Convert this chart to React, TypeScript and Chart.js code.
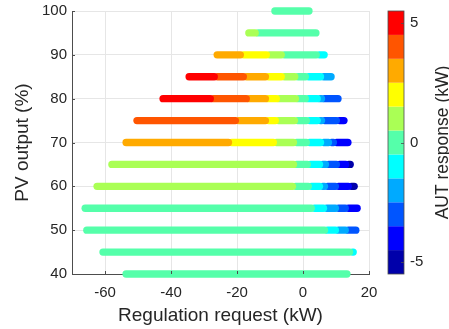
import React, { useEffect, useRef } from 'react';
import { Chart, registerables } from 'chart.js';

Chart.register(...registerables);

// ---- data ----
const pvOutput = [40, 45, 50, 55, 60, 65, 70, 75, 80, 85, 90, 95, 100];
// regulation request (kW) of first and last point of each row
const rowStart = [-53.6, -60.6, -65.5, -66, -62.4, -57.9, -53.6, -50.3, -42.4, -34.5, -26, -16.4, -8.5];
const rowEnd = [13.3, 15.2, 16, 16.4, 15.5, 14.3, 13.6, 12.4, 10.6, 8.5, 6.4, 3.9, 1.8];
// regulation request (kW) where the AUT response changes level
const rowBreaks = [
  [],
  [14.6],
  [7.0, 10.3, 13.3],
  [3.0, 6.7, 10.3, 13.3],
  [-2.7, 2.1, 5.5, 7.0, 10.3, 14.2],
  [-2.4, 1.8, 5.5, 7.3, 10.6, 13.4],
  [-22.1, -8.5, -2.4, 1.5, 5.8, 8.2, 9.7],
  [-20, -10.9, -7.9, -2.1, 1.5, 4.8, 6.1, 10.6],
  [-27.6, -16.7, -10.9, -7.6, -1.8, 1.2, 4.8, 6.1],
  [-26.4, -17.6, -10.9, -6.1, -2, 1.2, 5.8],
  [-18.5, -10.6, -6.1, 4.5],
  [-14],
  [],
];
// AUT response (kW) for each piece of each row
const rowResponse = [
  [0],
  [0, -1],
  [0, -1, -2, -3],
  [0, -1, -2, -3, -4],
  [1, 0, -1, -2, -3, -4, -5],
  [1, 0, -1, -2, -3, -4, -5],
  [3, 2, 1, 0, -1, -2, -3, -4],
  [4, 3, 2, 1, 0, -1, -2, -3, -4],
  [5, 4, 3, 2, 1, 0, -1, -2, -3],
  [5, 4, 3, 2, 1, 0, -1, -2],
  [3, 2, 1, 0, -1],
  [1, 0],
  [0],
];
const responseLevels = [-5, -4, -3, -2, -1, 0, 1, 2, 3, 4, 5];
const jetColors = ['#0000aa', '#0000ff', '#0055ff', '#00aaff', '#00ffff', '#55ffaa', '#aaff55', '#ffff00', '#ffaa00', '#ff5500', '#ff0000'];
const xTicks = [-60, -40, -20, 0, 20];
const yTicks = [40, 50, 60, 70, 80, 90, 100];
const cbTicks = [-5, 0, 5];

const FONT = "'Liberation Sans', Arial, Helvetica, sans-serif";
const TEXT = '#262626';
const AXIS = '#4d4d4d';
const GRID = '#e6e6e6';

const colorOf = (lv: number) => jetColors[responseLevels.indexOf(lv)];

const extrasPlugin = {
  id: 'extras',
  afterDraw(chart: any) {
    const ctx = chart.ctx as CanvasRenderingContext2D;
    const { left, right, bottom } = chart.chartArea;
    const cb = chart.scales.cb;
    const xs = chart.scales.x;
    const ys = chart.scales.y;
    ctx.save();
    // inward tick marks
    ctx.strokeStyle = AXIS;
    ctx.lineWidth = 1;
    ctx.beginPath();
    xTicks.forEach((v) => {
      const px = Math.round(xs.getPixelForValue(v)) + 0.5;
      ctx.moveTo(px, bottom);
      ctx.lineTo(px, bottom - 3);
    });
    yTicks.forEach((v) => {
      const py = Math.round(ys.getPixelForValue(v)) + 0.5;
      ctx.moveTo(left, py);
      ctx.lineTo(left + 3, py);
    });
    ctx.stroke();
    // colorbar
    const bx = right + 19;
    const bw = 16;
    responseLevels.forEach((lv, i) => {
      const y0 = cb.getPixelForValue(lv + 0.5);
      const y1 = cb.getPixelForValue(lv - 0.5);
      ctx.fillStyle = jetColors[i];
      ctx.fillRect(bx, y0, bw, y1 - y0);
    });
    ctx.strokeStyle = AXIS;
    ctx.lineWidth = 0.8;
    const cTop = cb.getPixelForValue(5.5);
    const cBot = cb.getPixelForValue(-5.5);
    ctx.strokeRect(bx, cTop, bw, cBot - cTop);
    ctx.beginPath();
    cbTicks.forEach((v) => {
      const py = Math.round(cb.getPixelForValue(v)) + 0.5;
      ctx.moveTo(bx + bw, py);
      ctx.lineTo(bx + bw - 3, py);
    });
    ctx.stroke();
    // colorbar title
    ctx.fillStyle = TEXT;
    ctx.font = `17.5px ${FONT}`;
    ctx.textAlign = 'center';
    ctx.textBaseline = 'middle';
    ctx.translate(443, (cTop + cBot) / 2);
    ctx.rotate(-Math.PI / 2);
    ctx.fillText('AUT response (kW)', 0, 0);
    ctx.restore();
  },
};

export default function App() {
  const ref = useRef<HTMLCanvasElement | null>(null);
  useEffect(() => {
    if (!ref.current) return;
    const datasets: any[] = [];
    pvOutput.forEach((pv, r) => {
      const levels = rowResponse[r];
      const breaks = rowBreaks[r];
      levels.forEach((lv, i) => {
        let x0 = i === 0 ? rowStart[r] : breaks[i - 1] + 0.5;
        let x1 = i === levels.length - 1 ? rowEnd[r] : breaks[i] - 0.5;
        if (x1 < x0) {
          const m = (x0 + x1) / 2;
          x0 = m;
          x1 = m + 0.01;
        }
        datasets.push({
          data: [
            { x: x0, y: pv },
            { x: x1, y: pv },
          ],
          borderColor: colorOf(lv),
          backgroundColor: colorOf(lv),
          borderWidth: 7.4,
          borderCapStyle: 'round',
          showLine: true,
          pointRadius: 0,
          clip: false,
        });
      });
    });
    const tickFont = { family: FONT, size: 15 };
    const titleFont = { family: FONT, size: 19 };
    const chart = new Chart(ref.current, {
      type: 'scatter',
      data: { datasets },
      options: {
        responsive: false,
        animation: false,
        layout: { padding: { top: 11, left: 0, right: 0, bottom: 0 } },
        plugins: { legend: { display: false }, tooltip: { enabled: false } },
        scales: {
          x: {
            type: 'linear',
            min: -70,
            max: 20,
            afterBuildTicks: (s: any) => {
              s.ticks = xTicks.map((v) => ({ value: v }));
            },
            afterFit: (s: any) => {
              s.height = 55;
              s.paddingLeft = 0;
              s.paddingRight = 0;
            },
            grid: { color: GRID, drawTicks: false },
            border: { color: AXIS },
            ticks: { padding: 10, color: TEXT, font: tickFont, maxRotation: 0 },
            title: {
              display: true,
              text: 'Regulation request (kW)',
              color: TEXT,
              font: titleFont,
              padding: { top: 0, bottom: 2 },
            },
          },
          y: {
            type: 'linear',
            min: 40,
            max: 100,
            afterBuildTicks: (s: any) => {
              s.ticks = yTicks.map((v) => ({ value: v }));
            },
            afterFit: (s: any) => {
              s.width = 72;
              s.paddingTop = 0;
              s.paddingBottom = 0;
            },
            grid: { color: GRID, drawTicks: false },
            border: { color: AXIS },
            ticks: { padding: 5, color: TEXT, font: tickFont },
            title: {
              display: true,
              text: 'PV output (%)',
              color: TEXT,
              font: titleFont,
              padding: { top: 11, bottom: 0 },
            },
          },
          cb: {
            type: 'linear',
            position: 'right',
            min: -5.5,
            max: 5.5,
            afterBuildTicks: (s: any) => {
              s.ticks = cbTicks.map((v) => ({ value: v }));
            },
            afterFit: (s: any) => {
              s.width = 80;
              s.paddingTop = 0;
              s.paddingBottom = 0;
            },
            grid: { display: false, drawTicks: false },
            border: { display: false },
            ticks: { padding: 41, color: TEXT, font: tickFont },
          },
        },
      } as any,
      plugins: [extrasPlugin],
    });
    return () => chart.destroy();
  }, []);
  return (
    <div style={{ position: 'fixed', left: 0, top: 0, width: 449, height: 329, background: '#fff' }}>
      <canvas ref={ref} width={449} height={329} style={{ display: 'block' }} />
    </div>
  );
}
